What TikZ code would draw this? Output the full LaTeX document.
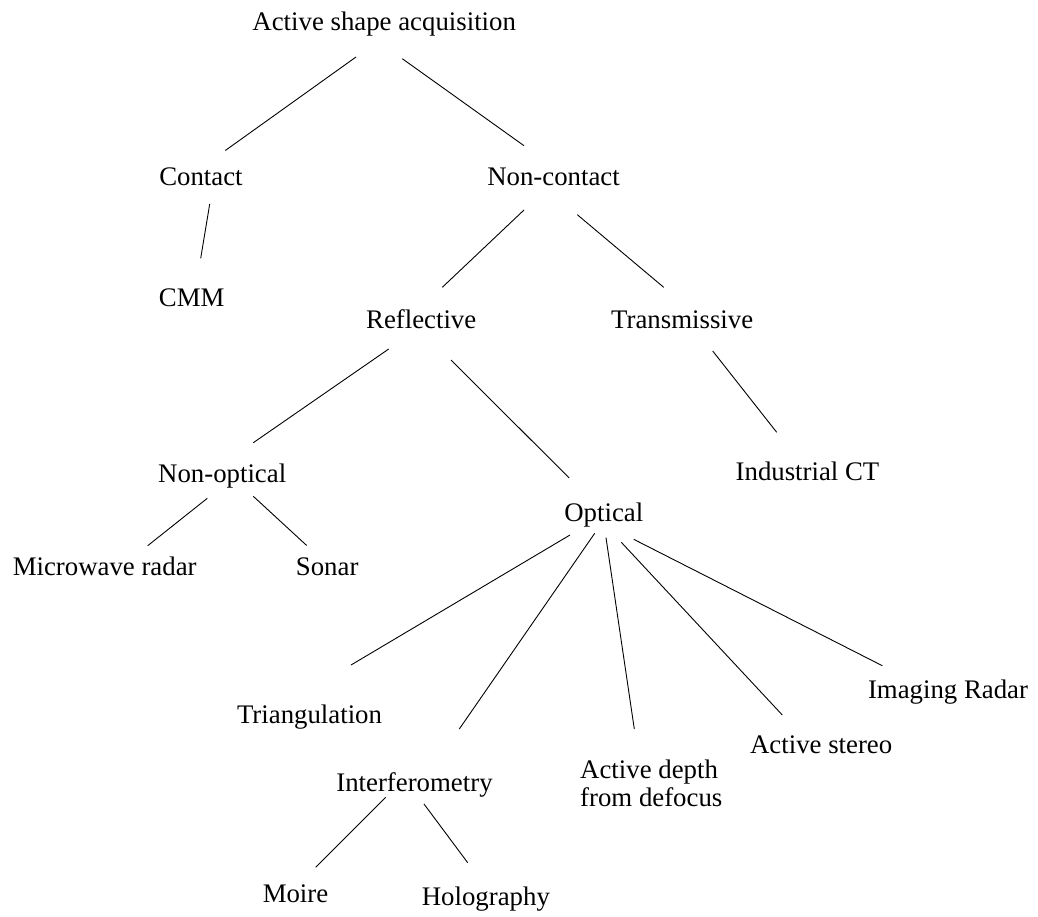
\documentclass[tikz,border=0pt]{standalone}
\usepackage{fontspec}
\setmainfont{Liberation Serif}

\begin{document}
\begin{tikzpicture}[x=1pt,y=-1pt,
    label/.style={inner sep=0pt,anchor=base,font=\fontsize{26.8pt}{28.3pt}\selectfont},
    branch/.style={line width=0.9pt}]
    \useasboundingbox (0,0) rectangle (1038,916);
    % labels of the tree
    \foreach \n/\x/\y/\t in {root/384.2/30.7/Active shape acquisition,
        contact/201/185.7/Contact, noncontact/553.5/185.7/Non-contact,
        cmm/191.7/306.7/CMM, reflective/421.2/328.3/Reflective,
        transmissive/682.2/328/Transmissive, nonoptical/222.2/482.3/Non-optical,
        industrialct/807.5/480/Industrial CT, optical/603.8/521.7/Optical,
        microwave/104.7/575/Microwave radar, sonar/327.2/575/Sonar,
        triangulation/309.5/723.3/Triangulation, interferometry/414.5/791/Interferometry,
        stereo/821.2/753.3/Active stereo, imaging/948/698.3/Imaging Radar,
        moire/295.5/902.7/Moire, holography/485.9/905/Holography} {
        \node[label] (\n) at (\x,\y) {\t};
    }
    \node[label,anchor=north west,align=left] (depth) at (580,759.4) {Active depth\\from defocus};
    % branches
    \foreach \a/\ax/\ay/\b/\bx/\by in {root/-28.2/26.3/contact/24.3/-35.2,
        root/18.1/28/noncontact/-29.5/-40,
        contact/8.7/18.3/cmm/9/-48.4,
        noncontact/-29.5/24.3/reflective/21.1/-41,
        noncontact/23.8/29/transmissive/-18.5/-40.7,
        reflective/-32.5/20.7/nonoptical/31.1/-39.6,
        reflective/29.8/31.7/optical/-34.6/-43.7,
        transmissive/30.5/23/industrialct/-30.8/-47.7,
        nonoptical/-14.9/16/microwave/43/-29.3,
        nonoptical/31.1/14/sonar/-20.5/-29.5,
        optical/-33.8/13.3/triangulation/41.5/-58.3,
        optical/-9.1/11.6/interferometry/44.8/-62,
        optical/17.5/20.6/stereo/-38.9/-38.3,
        optical/29.9/17.6/imaging/-65.7/-32.6,
        interferometry/-28.8/6.3/moire/20.2/-35.4,
        interferometry/9.5/13/holography/-18.2/-42.3} {
        \draw[branch] ([shift={(\ax,\ay)}]\a.base) -- ([shift={(\bx,\by)}]\b.base);
    }
    \draw[branch] ([shift={(2.2,16)}]optical.base) -- ([shift={(54.3,-30.4)}]depth.north west);
\end{tikzpicture}
\end{document}
